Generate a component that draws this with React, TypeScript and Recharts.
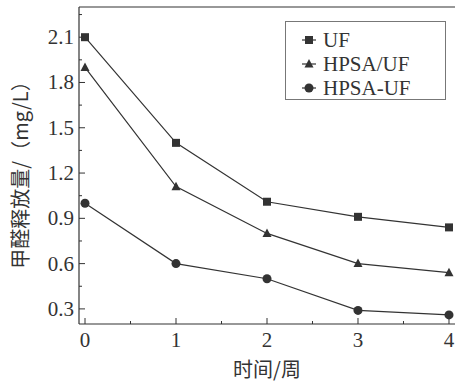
import React from 'react';
import { LineChart, Line, XAxis, YAxis } from 'recharts';

const weeks = [0, 1, 2, 3, 4];
const ufValues = [2.1, 1.4, 1.01, 0.91, 0.84];
const hpsaSlashValues = [1.9, 1.11, 0.8, 0.6, 0.54];
const hpsaDashValues = [1.0, 0.6, 0.5, 0.29, 0.26];

const yMajorTicks = [0.3, 0.6, 0.9, 1.2, 1.5, 1.8, 2.1];
const yMinorTicks = [0.45, 0.75, 1.05, 1.35, 1.65, 1.95, 2.25];
const xMajorTicks = [0, 1, 2, 3, 4];
const xMinorTicks = [0.5, 1.5, 2.5, 3.5];

const data = weeks.map((w, i) => ({
  week: w,
  uf: ufValues[i],
  hpsaSlash: hpsaSlashValues[i],
  hpsaDash: hpsaDashValues[i],
}));

const INK = '#333';
const NUM_FONT = '"Liberation Serif", "Times New Roman", serif';
const CJK_FONT = '"Noto Sans CJK SC", sans-serif';

const isMajor = (v: number, list: number[]) => list.some((m) => Math.abs(m - v) < 1e-6);
const allY = [...yMajorTicks, ...yMinorTicks].sort((a, b) => a - b);
const allX = [...xMajorTicks, ...xMinorTicks].sort((a, b) => a - b);

const YTick = (props: any) => {
  const { x, y, payload } = props;
  const major = isMajor(payload.value, yMajorTicks);
  return (
    <g>
      <line x1={x} x2={x + (major ? 6 : 3)} y1={y} y2={y} stroke={INK} strokeWidth={1} />
      {major && (
        <text x={x - 5} y={y} dy={7} textAnchor="end" fontSize={21} fontFamily={NUM_FONT} fill={INK}>
          {Number(payload.value).toFixed(1)}
        </text>
      )}
    </g>
  );
};

const XTick = (props: any) => {
  const { x, y, payload } = props;
  const major = isMajor(payload.value, xMajorTicks);
  return (
    <g>
      <line x1={x} x2={x} y1={y} y2={y - (major ? 6 : 3)} stroke={INK} strokeWidth={1} />
      {major && (
        <text x={x} y={y} dy={23} textAnchor="middle" fontSize={21} fontFamily={NUM_FONT} fill={INK}>
          {payload.value}
        </text>
      )}
    </g>
  );
};

const Square = (props: any) => {
  const { cx, cy } = props;
  if (cx == null || cy == null) return null;
  return <rect x={cx - 4} y={cy - 4} width={8} height={8} fill={INK} />;
};

const Triangle = (props: any) => {
  const { cx, cy } = props;
  if (cx == null || cy == null) return null;
  return <polygon points={`${cx},${cy - 5} ${cx - 4.5},${cy + 3.5} ${cx + 4.5},${cy + 3.5}`} fill={INK} />;
};

const Circle = (props: any) => {
  const { cx, cy } = props;
  if (cx == null || cy == null) return null;
  return <circle cx={cx} cy={cy} r={4.5} fill={INK} />;
};

const legendItems = [
  { name: 'UF', Marker: Square },
  { name: 'HPSA/UF', Marker: Triangle },
  { name: 'HPSA-UF', Marker: Circle },
];

const LegendBox = () => (
  <svg width={162} height={80} style={{ position: 'absolute', left: 285, top: 21 }}>
    <rect x={0.5} y={0.5} width={160} height={78} fill="#fff" stroke="#777" strokeWidth={1} />
    {legendItems.map((item, i) => {
      const cy = 19 + i * 24;
      const { Marker } = item;
      return (
        <g key={item.name}>
          <line x1={17} x2={31} y1={cy} y2={cy} stroke={INK} strokeWidth={1.2} />
          <Marker cx={24} cy={cy} />
          <text x={38} y={cy} dy={7} fontSize={21} fontFamily={NUM_FONT} fill={INK}>
            {item.name}
          </text>
        </g>
      );
    })}
  </svg>
);

export default function App() {
  return (
    <div style={{ position: 'absolute', left: 0, top: 0, width: 455, height: 383, background: '#fff' }}>
      <LineChart width={455} height={383} data={data} margin={{ top: 0, right: 0, left: 0, bottom: 0 }}>
        <XAxis
          dataKey="week"
          type="number"
          domain={[-0.066, 4.066]}
          ticks={allX}
          interval={0}
          tick={<XTick />}
          tickSize={0}
          tickMargin={0}
          tickLine={false}
          axisLine={{ stroke: INK, strokeWidth: 1.2 }}
          height={59}
          allowDataOverflow
        />
        <XAxis
          xAxisId="top"
          orientation="top"
          dataKey="week"
          type="number"
          domain={[-0.066, 4.066]}
          tick={false}
          tickLine={false}
          axisLine={{ stroke: INK, strokeWidth: 1.2 }}
          height={7}
        />
        <YAxis
          type="number"
          domain={[0.2, 2.3]}
          ticks={allY}
          interval={0}
          tick={<YTick />}
          tickSize={0}
          tickMargin={0}
          tickLine={false}
          axisLine={{ stroke: INK, strokeWidth: 1.2 }}
          width={79}
          allowDataOverflow
        />
        <Line dataKey="uf" stroke={INK} strokeWidth={1.2} dot={<Square />} isAnimationActive={false} />
        <Line dataKey="hpsaSlash" stroke={INK} strokeWidth={1.2} dot={<Triangle />} isAnimationActive={false} />
        <Line dataKey="hpsaDash" stroke={INK} strokeWidth={1.2} dot={<Circle />} isAnimationActive={false} />
      </LineChart>
      <div
        style={{
          position: 'absolute',
          left: 267,
          top: 357,
          transform: 'translateX(-50%)',
          fontFamily: CJK_FONT,
          fontSize: 20,
          color: INK,
          whiteSpace: 'nowrap',
          lineHeight: '24px',
        }}
      >
        时间/周
      </div>
      <div
        style={{
          position: 'absolute',
          left: 20,
          top: 170,
          transform: 'translate(-50%, -50%) rotate(-90deg)',
          fontFamily: CJK_FONT,
          fontSize: 20,
          color: INK,
          whiteSpace: 'nowrap',
          lineHeight: '24px',
        }}
      >
        甲醛释放量/（mg/L）
      </div>
      <LegendBox />
    </div>
  );
}
